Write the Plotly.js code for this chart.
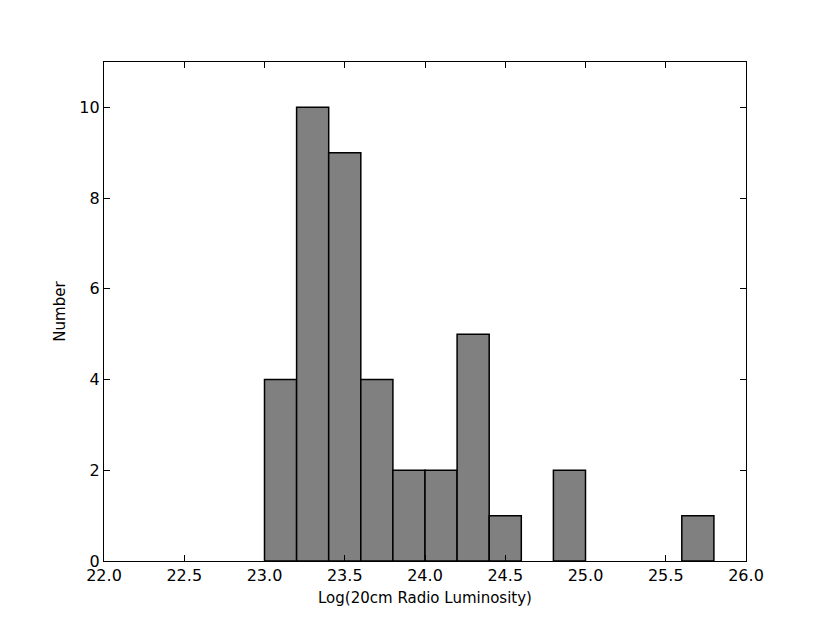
<!DOCTYPE html>
<html>
<head>
<meta charset="utf-8">
<script src="https://cdn.plot.ly/plotly-3.0.1.min.js"></script>
<style>
  body { margin: 0; background: #fff; }
</style>
</head>
<body>
<div id="chart" style="width:830px;height:623px;"></div>
<script>
// histogram bins (left edge) and counts, bin width 0.2
var binStarts = [23.0, 23.2, 23.4, 23.6, 23.8, 24.0, 24.2, 24.4, 24.8, 25.6];
var counts = [4, 10, 9, 4, 2, 2, 5, 1, 2, 1];
var binWidth = 0.2;

var xTicks = [22.0, 22.5, 23.0, 23.5, 24.0, 24.5, 25.0, 25.5, 26.0];
var yTicks = [0, 2, 4, 6, 8, 10];

var centers = binStarts.map(function (b) { return b + binWidth / 2; });

var data = [
  {
    x: centers,
    y: counts,
    type: 'bar',
    width: binWidth,
    marker: {
      color: '#808080',
      line: { color: '#000', width: 1.5 }
    },
    hoverinfo: 'none'
  }
];

var axisStyle = {
  showline: true,
  linecolor: '#000',
  linewidth: 1.2,
  mirror: 'ticks',
  ticks: 'inside',
  ticklen: 6,
  tickwidth: 1,
  tickcolor: '#000',
  showgrid: false,
  zeroline: false,
  tickfont: { size: 16, color: '#000' }
};

var layout = {
  width: 830,
  height: 623,
  margin: { l: 104, r: 84, t: 62, b: 62 },
  paper_bgcolor: '#fff',
  plot_bgcolor: '#fff',
  font: { family: 'DejaVu Sans, sans-serif', size: 15, color: '#000' },
  showlegend: false,
  bargap: 0,
  xaxis: Object.assign({}, axisStyle, {
    range: [22, 26],
    tickvals: xTicks,
    ticktext: xTicks.map(function (v) { return v.toFixed(1); }),
    title: { text: 'Log(20cm Radio Luminosity)', font: { size: 15 }, standoff: 8 }
  }),
  yaxis: Object.assign({}, axisStyle, {
    range: [0, 11],
    tickvals: yTicks,
    title: { text: 'Number', font: { size: 15 }, standoff: 10 }
  })
};

Plotly.newPlot('chart', data, layout, { staticPlot: true });
</script>
</body>
</html>
